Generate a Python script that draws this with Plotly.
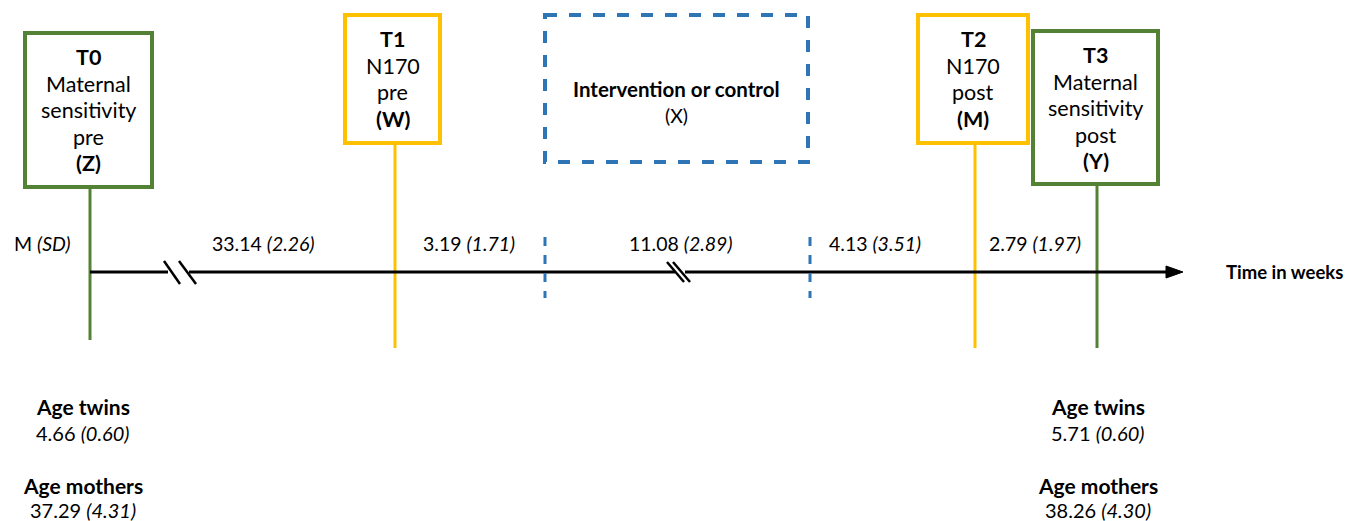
import plotly.graph_objects as go

# ---- data (diagram content) ----
box_ids = ["T0", "T1", "T2", "T3"]
box_lines = [["Maternal", "sensitivity", "pre"], ["N170", "pre"], ["N170", "post"], ["Maternal", "sensitivity", "post"]]
box_vars = ["(Z)", "(W)", "(M)", "(Y)"]
box_kind = ["green", "yellow", "yellow", "green"]
box_x0 = [25, 345, 918, 1033]
box_x1 = [152, 440, 1028, 1158]
box_y0 = [33, 15, 15, 31]
box_y1 = [187, 143, 143, 184]
stem_x = [90, 395, 975, 1097]
stem_bottom = [340, 348, 348, 348]

interval_means = ["33.14", "3.19", "11.08", "4.13", "2.79"]
interval_sds = ["2.26", "1.71", "2.89", "3.51", "1.97"]
interval_x = [263, 469, 680, 875, 1035]

age_twins_mean = ["4.66", "5.71"]
age_twins_sd = ["0.60", "0.60"]
age_mothers_mean = ["37.29", "38.26"]
age_mothers_sd = ["4.31", "4.30"]
age_x = [83, 1098]

colors = {"green": "#548235", "yellow": "#FFC000", "blue": "#2E75B6"}
FONT = "Lato"

fig = go.Figure()
shapes = []
ann = []

def text(x, y, s, size=19, xanchor="center"):
    ann.append(dict(x=x, y=y, xref="x", yref="y", text=s, showarrow=False,
                    font=dict(family=FONT, size=size, color="black"),
                    xanchor=xanchor, yanchor="middle"))

# boxes + stems
for i in range(4):
    c = colors[box_kind[i]]
    shapes.append(dict(type="line", x0=stem_x[i], x1=stem_x[i], y0=box_y1[i], y1=stem_bottom[i],
                       line=dict(color=c, width=3)))
    shapes.append(dict(type="rect", x0=box_x0[i], x1=box_x1[i], y0=box_y0[i], y1=box_y1[i],
                       line=dict(color=c, width=4), fillcolor="white"))
    cx = (box_x0[i] + box_x1[i]) / 2
    lines = ["<b>%s</b>" % box_ids[i]] + box_lines[i] + ["<b>%s</b>" % box_vars[i]]
    top = box_y0[i] + 24
    for k, s in enumerate(lines):
        text(cx, top + k * 26.5, s, size=21.5)

# intervention box
shapes.append(dict(type="rect", x0=545, x1=808, y0=15, y1=162,
                   line=dict(color=colors["blue"], width=4, dash="dash")))
text(676, 89, "<b>Intervention or control</b>", size=20.5)
text(676, 115, "(X)", size=19.5)

# timeline
TY = 272
segs = [(90, 168), (189, 675), (685, 1170)]
for a, b in segs:
    shapes.append(dict(type="line", x0=a, x1=b, y0=TY, y1=TY, line=dict(color="black", width=3)))
shapes.append(dict(type="path", path="M 1166 %d L 1183 %d L 1166 %d Z" % (TY - 6, TY, TY + 6),
                   fillcolor="black", line=dict(color="black", width=1)))
# break marks
for bx in [(164, 180), (179, 196)]:
    shapes.append(dict(type="line", x0=bx[0], x1=bx[1], y0=261, y1=284, line=dict(color="black", width=2.5)))
for bx in [(667, 684), (673, 690)]:
    shapes.append(dict(type="line", x0=bx[0], x1=bx[1], y0=262, y1=282, line=dict(color="black", width=2.5)))
# blue dashed vertical marks
for vx in [545, 810]:
    shapes.append(dict(type="line", x0=vx, x1=vx, y0=237, y1=298,
                       line=dict(color=colors["blue"], width=3, dash="dash")))

text(42, 243, "M <i>(SD)</i>", size=19.5)
for i in range(5):
    text(interval_x[i], 243, "%s <i>(%s)</i>" % (interval_means[i], interval_sds[i]), size=19.5)
text(1284, 272, "<b>Time in weeks</b>", size=18.5)

for j in range(2):
    text(age_x[j], 406, "<b>Age twins</b>", size=21)
    text(age_x[j], 433, "%s <i>(%s)</i>" % (age_twins_mean[j], age_twins_sd[j]), size=20)
    text(age_x[j], 485, "<b>Age mothers</b>", size=21)
    text(age_x[j], 510, "%s <i>(%s)</i>" % (age_mothers_mean[j], age_mothers_sd[j]), size=20)

fig.update_layout(
    width=1360, height=521, margin=dict(l=0, r=0, t=0, b=0),
    paper_bgcolor="white", plot_bgcolor="white",
    xaxis=dict(range=[0, 1360], visible=False, fixedrange=True),
    yaxis=dict(range=[521, 0], visible=False, fixedrange=True),
    shapes=shapes, annotations=ann, showlegend=False,
)
fig.write_html("out.html", config={"displayModeBar": False},
               post_script="document.body.style.margin='0';document.body.style.overflow='hidden';")
